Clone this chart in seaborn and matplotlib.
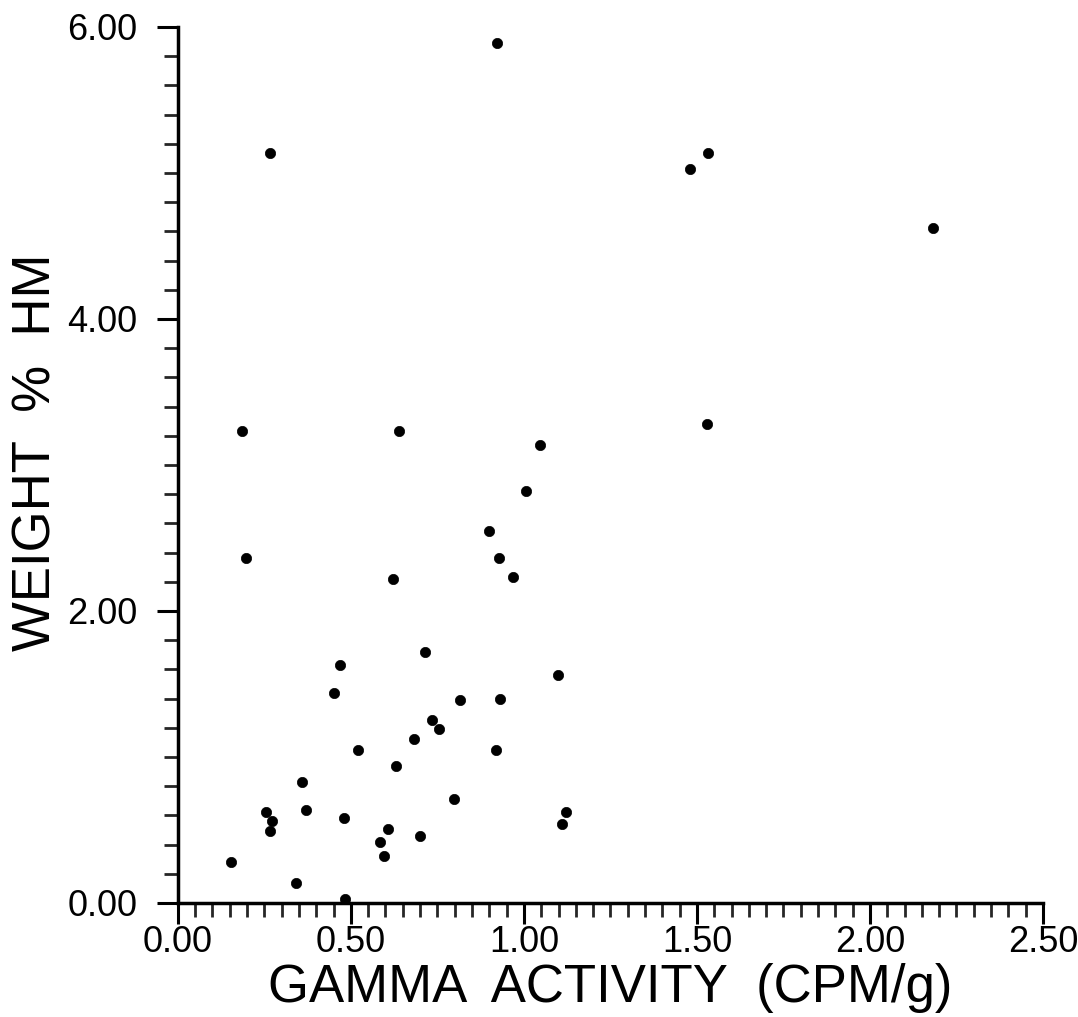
import numpy as np
import pandas as pd
import matplotlib
matplotlib.use("Agg")
import matplotlib.pyplot as plt
from matplotlib.ticker import MultipleLocator, FormatStrFormatter
import seaborn as sns

sns.set_style("white")
plt.rcParams['font.family'] = ['Liberation Sans', 'DejaVu Sans']
plt.rcParams['text.color'] = 'black'
plt.rcParams['axes.labelcolor'] = 'black'

# values
gamma = [0.922, 0.266, 1.480, 1.532, 2.182, 0.185, 0.639, 1.046, 1.529,
         1.006, 0.899, 0.197, 0.928, 0.968, 0.621, 0.714, 0.468, 0.451,
         1.098, 0.815, 0.931, 0.734, 0.754, 0.682, 0.520, 0.919, 0.630,
         0.358, 0.798, 0.370, 0.254, 1.121, 0.272, 0.266, 0.480, 1.110,
         0.607, 0.699, 0.584, 0.595, 0.153, 0.341, 0.483]
weight = [5.89, 5.14, 5.03, 5.14, 4.62, 3.23, 3.23, 3.14, 3.28,
          2.82, 2.55, 2.36, 2.36, 2.23, 2.22, 1.72, 1.63, 1.44,
          1.56, 1.39, 1.40, 1.25, 1.19, 1.12, 1.05, 1.05, 0.94,
          0.83, 0.71, 0.64, 0.62, 0.62, 0.56, 0.49, 0.58, 0.54,
          0.51, 0.46, 0.42, 0.32, 0.28, 0.14, 0.03]

df = pd.DataFrame({"gamma": gamma, "weight": weight})

fig = plt.figure(figsize=(10.78, 10.17), dpi=100)
ax = fig.add_axes([0.165, 0.1121, 0.8025, 0.8614])

sns.scatterplot(data=df, x="gamma", y="weight", ax=ax, color="black",
                s=55, edgecolor="black", linewidth=0.5, clip_on=False)

ax.set_xlim(0, 2.5)
ax.set_ylim(0, 6)
ax.xaxis.set_major_locator(MultipleLocator(0.5))
ax.xaxis.set_minor_locator(MultipleLocator(0.05))
ax.yaxis.set_major_locator(MultipleLocator(2.0))
ax.yaxis.set_minor_locator(MultipleLocator(0.2))
ax.xaxis.set_major_formatter(FormatStrFormatter("%.2f"))
ax.yaxis.set_major_formatter(FormatStrFormatter("%.2f"))

for s in ["top", "right"]:
    ax.spines[s].set_visible(False)
for s in ["left", "bottom"]:
    ax.spines[s].set_linewidth(2.5)
    ax.spines[s].set_color("black")

ax.tick_params(which="major", direction="out", length=15, width=2.2,
               labelsize=26, pad=1, colors="black", bottom=True, left=True)
ax.tick_params(which="minor", direction="out", length=10, width=2.0,
               bottom=True, left=True)
ax.tick_params(axis="y", which="major", pad=14)

ax.set_xlabel("GAMMA  ACTIVITY  (CPM/g)", fontsize=38, labelpad=2)
ax.set_ylabel("WEIGHT  %  HM", fontsize=38)
ax.yaxis.set_label_coords(-0.135, 0.515)

fig.savefig("out.png", dpi=100, facecolor="white")
